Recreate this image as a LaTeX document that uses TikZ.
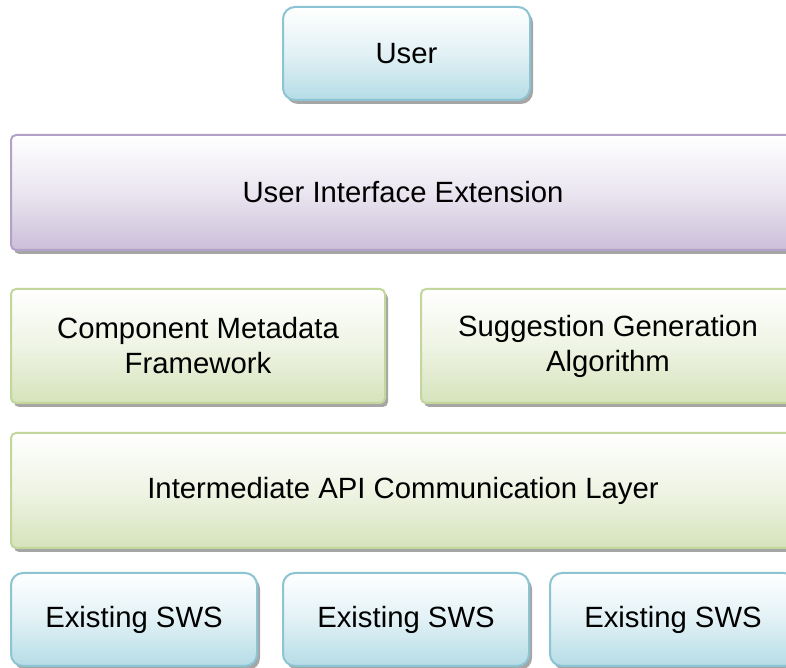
\documentclass[tikz,border=0pt]{standalone}
\usepackage{fontspec}
\setmainfont{Liberation Sans}
\usetikzlibrary{shadows}
\definecolor{blueedge}{HTML}{8CC4D3}
\definecolor{bluefill}{HTML}{B5DCE6}
\definecolor{purpedge}{HTML}{B3A2C7}
\definecolor{purpfill}{HTML}{CBBFD9}
\definecolor{greenedge}{HTML}{C3D69B}
\definecolor{greenfill}{HTML}{D6E3BB}
\tikzset{
  layer/.style={draw, line width=2pt, align=center, inner sep=0pt,
    font=\fontsize{29.3}{35}\selectfont,
    drop shadow={shadow xshift=3pt, shadow yshift=-4pt, fill=black, opacity=0.35}},
  bluebox/.style={layer, rounded corners=12pt, draw=blueedge,
    top color=white, bottom color=bluefill, middle color=bluefill!40!white},
  purplebox/.style={layer, rounded corners=5pt, draw=purpedge,
    top color=white, bottom color=purpfill, middle color=purpfill!40!white},
  greenbox/.style={layer, rounded corners=5pt, draw=greenedge,
    top color=white, bottom color=greenfill, middle color=greenfill!40!white},
}
\begin{document}
\begin{tikzpicture}[x=1pt, y=1pt]
  \useasboundingbox (0,0) rectangle (786,668);
  \clip (0,0) rectangle (786,668);
  \fill[white] (0,0) rectangle (786,668);

  \node[bluebox, minimum width=247pt, minimum height=93pt] (user) at (406.5,614.5) {User};

  \node[purplebox, minimum width=784pt, minimum height=115pt] (uie) at (403,475.5) {User Interface Extension};

  \node[greenbox, minimum width=374pt, minimum height=114pt] (cmf) at (198,322) {Component Metadata\\Framework};
  \node[greenbox, minimum width=374pt, minimum height=114pt] (sga) at (608,322) {Suggestion Generation\\Algorithm};

  \node[greenbox, minimum width=784pt, minimum height=115pt] (ial) at (403,177.5) {Intermediate API Communication Layer};

  \node[bluebox, minimum width=246pt, minimum height=93pt] (sws1) at (134,48.5) {Existing SWS};
  \node[bluebox, minimum width=246pt, minimum height=93pt] (sws2) at (406,48.5) {Existing SWS};
  \node[bluebox, minimum width=246pt, minimum height=93pt] (sws3) at (673,48.5) {Existing SWS};
\end{tikzpicture}
\end{document}
